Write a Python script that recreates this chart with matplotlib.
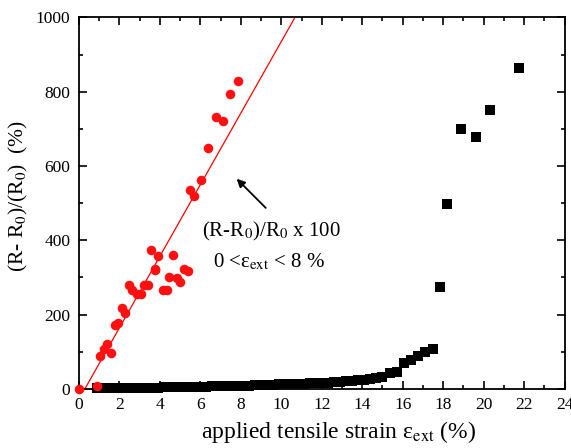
import matplotlib
matplotlib.use("Agg")
import matplotlib.pyplot as plt
from matplotlib.ticker import MultipleLocator

plt.rcParams['font.family'] = ['Liberation Serif', 'DejaVu Serif']
plt.rcParams['mathtext.fontset'] = 'stix'

# low-strain run (red circles)
strain_lo = [0.0, 0.9, 1.04, 1.23, 1.41, 1.58, 1.78, 1.93, 2.12, 2.3, 2.47, 2.65,
             2.86, 3.06, 3.2, 3.4, 3.56, 3.75, 3.75, 3.9, 4.15, 4.35, 4.44, 4.64,
             4.84, 4.99, 5.18, 5.38, 5.5, 5.68, 6.04, 6.4, 6.77, 7.11, 7.46, 7.85]
dR_lo = [0, 8, 89, 108, 121, 97, 172, 178, 218, 204, 280, 267,
         256, 256, 280, 280, 375, 320, 323, 357, 266, 266, 302, 360,
         298, 288, 323, 318, 536, 520, 563, 649, 732, 721, 794, 828]

# full run up to failure (black squares)
strain_hi = [0.9, 1.2, 1.5, 1.8, 2.1, 2.4, 2.7, 3.0, 3.3, 3.6, 3.9, 4.2, 4.5,
             4.8, 5.1, 5.4, 5.7, 6.0, 6.3, 6.6, 6.9, 7.2, 7.5, 7.8, 8.1, 8.4,
             8.7, 9.0, 9.3, 9.6, 9.9, 10.2, 10.5, 10.8, 11.1, 11.4, 11.7, 12.0,
             12.3, 12.6, 12.9, 13.2, 13.5, 13.8, 14.1, 14.4, 14.7, 15.0, 15.35,
             15.7, 16.05, 16.4, 16.75, 17.1, 17.47,
             17.83, 18.17, 18.9, 19.6, 20.3, 21.75]
dR_hi = [1, 1, 1, 2, 2, 2, 2, 3, 3, 3, 3, 4, 4,
         4, 5, 5, 5, 6, 6, 7, 7, 8, 8, 8, 9, 9,
         10, 10, 11, 11, 12, 12, 13, 13, 14, 15, 15, 16,
         17, 18, 19, 20, 21, 23, 24, 26, 28, 31, 42,
         46, 70, 78, 89, 100, 108,
         275, 498, 700, 677, 752, 864]

# linear fit over 0 < strain < 8 %
fit_slope = 96.4
fit_icpt = -29.0
fit_x = [0.3, 11.0]

fig = plt.figure(figsize=(5.71, 4.48), dpi=100, facecolor='white')
ax = fig.add_axes([0.138, 0.132, 0.851, 0.829])

ax.plot(strain_hi, dR_hi, 's', color='black', ms=7, mew=0, zorder=3, clip_on=False)
ax.plot(fit_x, [fit_slope * x + fit_icpt for x in fit_x], '-', color='red', lw=0.9, zorder=2)
ax.plot(strain_lo, dR_lo, 'o', color='#ff1010', ms=6.9, mew=0, zorder=4, clip_on=False)

ax.set_xlim(0, 24)
ax.set_ylim(0, 1000)
ax.xaxis.set_major_locator(MultipleLocator(2))
ax.xaxis.set_minor_locator(MultipleLocator(1))
ax.yaxis.set_major_locator(MultipleLocator(200))
ax.yaxis.set_minor_locator(MultipleLocator(100))
ax.tick_params(which='both', direction='in', top=True, right=True, width=1.2, labelsize=12.5)
ax.tick_params(which='major', length=6)
ax.tick_params(which='minor', length=3)
ax.tick_params(axis='x', pad=6)
ax.tick_params(axis='y', pad=6)
for s in ax.spines.values():
    s.set_linewidth(1.3)

ax.set_xlabel('applied tensile strain ε$_{\\rm ext}$ (%)', fontsize=17)
ax.xaxis.set_label_coords(0.535, -0.082)
ax.set_ylabel('(R- R$_0$)/(R$_0$)  (%)', fontsize=15.5)
ax.yaxis.set_label_coords(-0.1, 0.52)

ax.annotate('', xy=(7.7, 571), xytext=(9.33, 482),
            arrowprops=dict(arrowstyle='-|>', color='black', lw=1.3, mutation_scale=12))
ax.text(9.5, 425, '(R-R$_0$)/R$_0$ x 100', ha='center', va='center', fontsize=15)
ax.text(9.4, 343, '0 <ε$_{\\rm ext}$ < 8 %', ha='center', va='center', fontsize=15)

fig.savefig('out.png', dpi=100, facecolor='white')
